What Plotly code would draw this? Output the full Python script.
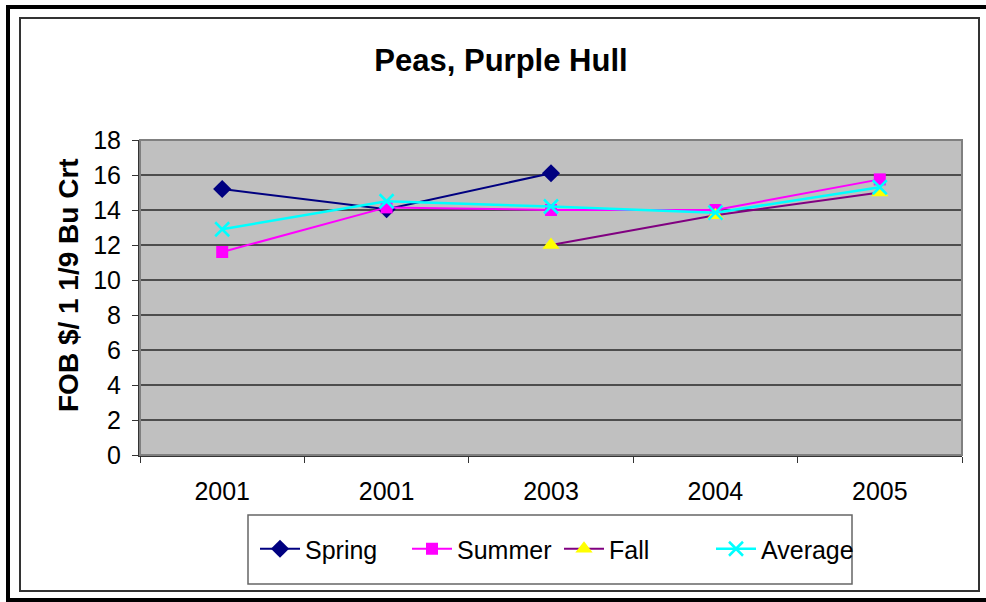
import plotly.graph_objects as go

years = ["2001", "2001", "2003", "2004", "2005"]
spring = [15.2, 14.05, 16.1, None, None]
summer = [11.6, 14.15, 14.0, 14.0, 15.75]
fall = [None, None, 12.0, 13.7, 15.0]
average = [12.9, 14.5, 14.2, 13.85, 15.3]

W, H = 986, 602
L, R, T, B = 140, 24, 140, 147
pos = list(range(len(years)))


def px(x):
    return (x - L) / (W - L - R)


def py(y):
    return 1 - (y - T) / (H - T - B)


fig = go.Figure()
fig.add_trace(go.Scatter(
    x=pos, y=spring, name="Spring", mode="lines+markers",
    line=dict(color="#000080", width=2),
    marker=dict(symbol="diamond", size=14, color="#000080"),
))
fig.add_trace(go.Scatter(
    x=pos, y=summer, name="Summer", mode="lines+markers",
    line=dict(color="#FF00FF", width=2),
    marker=dict(symbol="square", size=12, color="#FF00FF"),
))
fig.add_trace(go.Scatter(
    x=pos, y=fall, name="Fall", mode="lines+markers",
    line=dict(color="#800080", width=2),
    marker=dict(symbol="triangle-up", size=15, color="#FFFF00"),
))
fig.add_trace(go.Scatter(
    x=pos, y=average, name="Average", mode="lines+markers",
    line=dict(color="#00FFFF", width=2.5),
    marker=dict(symbol="x-thin", size=14, color="#00FFFF",
                line=dict(color="#00FFFF", width=2.5)),
))

font = "Arial, Liberation Sans, sans-serif"
fig.update_layout(
    width=W, height=H,
    margin=dict(l=L, r=R, t=T, b=B),
    paper_bgcolor="white",
    plot_bgcolor="#C0C0C0",
    font=dict(family=font, size=25, color="black"),
    title=dict(text="<b>Peas, Purple Hull</b>", x=px(501), xref="paper",
               xanchor="center", y=1 - 60 / H, yanchor="middle",
               font=dict(size=31)),
    showlegend=True,
    legend=dict(orientation="h", x=px(255), xanchor="left",
                y=py(549), yanchor="middle",
                borderwidth=0, bgcolor="rgba(0,0,0,0)",
                font=dict(size=25), itemwidth=40, tracegroupgap=0,
                entrywidth=97, entrywidthmode="pixels"),
    xaxis=dict(
        range=[-0.5, 4.5], tickvals=pos, ticktext=years,
        ticks="outside", ticklen=13, tickcolor="rgba(0,0,0,0)",
        showgrid=False, zeroline=False,
        showline=True, linecolor="#333333", linewidth=2,
        minor=dict(tickvals=[p - 0.5 for p in pos] + [pos[-1] + 0.5],
                   ticks="outside", ticklen=6, tickcolor="#333333",
                   showgrid=False),
    ),
    yaxis=dict(
        range=[0, 18], dtick=2, ticks="outside", ticklen=6,
        tickcolor="#333333", ticklabelstandoff=6,
        showgrid=True, gridcolor="#4d4d4d", gridwidth=1.5,
        zeroline=False, showline=True, linecolor="#333333", linewidth=2,
    ),
    annotations=[
        dict(text="<b>FOB $/ 1 1/9 Bu Crt</b>", xref="paper", yref="paper",
             x=px(68), y=py(285), xanchor="center", yanchor="middle",
             textangle=-90, showarrow=False, font=dict(size=28)),
    ],
    shapes=[
        dict(type="rect", xref="paper", yref="paper",
             x0=0, x1=1, y0=0, y1=1,
             line=dict(color="#808080", width=2), layer="above"),
        dict(type="rect", xref="paper", yref="paper",
             x0=px(248), x1=px(852), y0=py(584), y1=py(515),
             line=dict(color="#666666", width=1.5)),
        dict(type="rect", xref="paper", yref="paper",
             x0=px(20), x1=px(979), y0=py(591), y1=py(18),
             line=dict(color="#333333", width=2)),
        dict(type="rect", xref="paper", yref="paper",
             x0=px(8), x1=px(992), y0=py(600), y1=py(7),
             line=dict(color="black", width=4)),
    ],
)

fig.write_html("out.html", config={"displayModeBar": False},
               post_script="document.body.style.margin='0px';")
